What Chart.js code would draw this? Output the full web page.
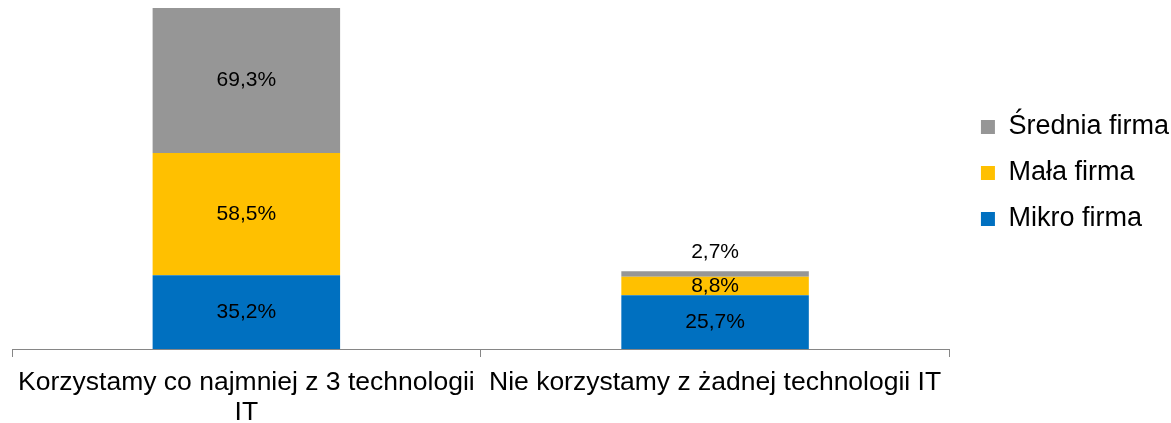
<!DOCTYPE html>
<html lang="pl">
<head>
    <meta charset="UTF-8">
    <title>Technologie IT wg wielkości firmy</title>
    <script src="https://cdn.jsdelivr.net/npm/chart.js"></script>
    <style>
        html, body { margin: 0; padding: 0; background: #fff; }
        .chart-box { width: 1171px; height: 423px; position: relative; }
    </style>
</head>
<body>
    <div class="chart-box">
        <canvas id="firmyChart"></canvas>
    </div>

    <script>
        // Data
        const categories = [
            ['Korzystamy co najmniej z 3 technologii', 'IT'],
            'Nie korzystamy z żadnej technologii IT'
        ];
        const seriesNames = ['Mikro firma', 'Mała firma', 'Średnia firma'];
        const mikroValues = [35.2, 25.7];
        const malaValues = [58.5, 8.8];
        const sredniaValues = [69.3, 2.7];

        const colors = ['#0070C0', '#FFC000', '#969696'];
        const stackMax = mikroValues[0] + malaValues[0] + sredniaValues[0];
        const fontFamily = '"Liberation Sans", Arial, sans-serif';

        // Value labels inside the segments (small ones go above the stack)
        const valueLabels = {
            id: 'valueLabels',
            afterDatasetsDraw(chart) {
                const ctx = chart.ctx;
                ctx.save();
                ctx.font = '21px ' + fontFamily;
                ctx.fillStyle = '#000';
                ctx.textAlign = 'center';
                ctx.textBaseline = 'middle';
                chart.data.datasets.forEach((ds, i) => {
                    const meta = chart.getDatasetMeta(i);
                    meta.data.forEach((bar, j) => {
                        const v = ds.data[j];
                        const text = v.toFixed(1).replace('.', ',') + '%';
                        const h = Math.abs(bar.base - bar.y);
                        let y = (bar.y + bar.base) / 2;
                        if (h < 12) y = bar.y - 19;
                        ctx.fillText(text, bar.x, y);
                    });
                });
                ctx.restore();
            }
        };

        const ctx = document.getElementById('firmyChart').getContext('2d');
        const firmyChart = new Chart(ctx, {
            type: 'bar',
            data: {
                labels: categories,
                datasets: [
                    { label: seriesNames[0], data: mikroValues, backgroundColor: colors[0] },
                    { label: seriesNames[1], data: malaValues, backgroundColor: colors[1] },
                    { label: seriesNames[2], data: sredniaValues, backgroundColor: colors[2] }
                ]
            },
            options: {
                responsive: true,
                maintainAspectRatio: false,
                animation: false,
                layout: { padding: { left: 12, top: 8, right: -8, bottom: 0 } },
                datasets: { bar: { categoryPercentage: 1, barPercentage: 0.4 } },
                scales: {
                    x: {
                        stacked: true,
                        grid: { offset: true, drawOnChartArea: false, tickLength: 8, color: '#868686' },
                        border: { color: '#868686' },
                        ticks: {
                            color: '#000',
                            padding: 11,
                            maxRotation: 0,
                            font: { family: fontFamily, size: 26.5, lineHeight: 1.13 }
                        },
                        afterFit: (axis) => { axis.height = 74; }
                    },
                    y: {
                        stacked: true,
                        position: 'right',
                        min: 0,
                        max: stackMax,
                        ticks: { display: false },
                        grid: { display: false },
                        border: { display: false },
                        afterFit: (axis) => { axis.width = 12.5; }
                    }
                },
                plugins: {
                    tooltip: { enabled: false },
                    legend: {
                        position: 'right',
                        align: 'start',
                        reverse: true,
                        title: { display: true, text: '', font: { size: 10 }, padding: { top: 0, bottom: 74.5 } },
                        labels: {
                            color: '#000',
                            boxWidth: 14,
                            boxHeight: 14,
                            padding: 19,
                            font: { family: fontFamily, size: 27 }
                        }
                    }
                }
            },
            plugins: [valueLabels]
        });
    </script>
</body>
</html>
